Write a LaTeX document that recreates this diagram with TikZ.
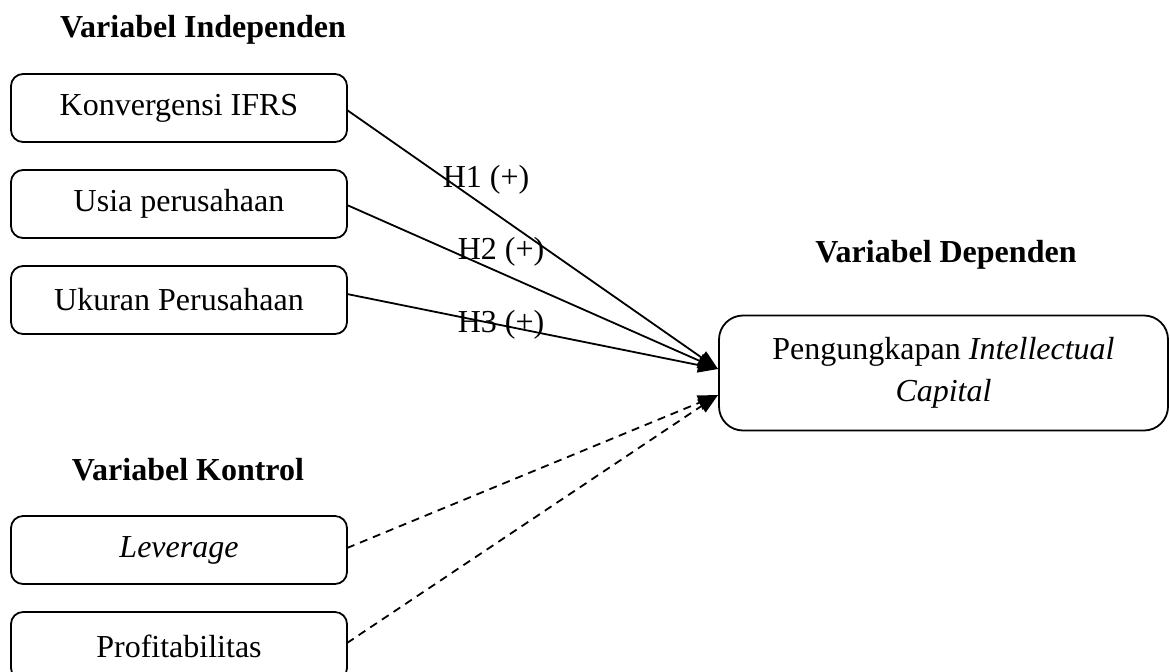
\documentclass[tikz,border=0pt]{standalone}
\usepackage{fontspec}
\setmainfont{Liberation Serif}
\usetikzlibrary{arrows.meta}
\begin{document}
\begin{tikzpicture}[x=0.5pt,y=-0.5pt,
  every node/.style={font=\fontsize{16}{21}\selectfont, inner sep=0pt, outer sep=0pt},
  varbox/.style={draw, line width=0.9pt, rounded corners=6pt, minimum width=168pt, minimum height=34pt, align=center},
  depbox/.style={draw, line width=0.9pt, rounded corners=12pt, minimum width=224.5pt, minimum height=57.5pt, align=center},
  heading/.style={font=\fontsize{16}{21}\selectfont\bfseries},
  hyp/.style={font=\fontsize{16}{21}\selectfont},
  link/.style={line width=0.9pt, -{Triangle[length=10pt,width=7.5pt]}},
  ctrl/.style={link, dash pattern=on 4pt off 3pt}]
\useasboundingbox (0,0) rectangle (1170,671);
\node[heading] (hind) at (203,30) {Variabel Independen};
\node[heading] (hdep) at (946,255) {Variabel Dependen};
\node[heading] (hkon) at (188,470) {Variabel Kontrol};
\node[varbox] (ifrs) at (179,108) {Konvergensi IFRS};
\node[varbox] (usia) at (179,204) {Usia perusahaan};
\node[varbox] (ukur) at (179,300) {Ukuran Perusahaan};
\node[varbox] (lev) at (179,550) {\itshape Leverage};
\node[varbox] (prof) at (179,646) {Profitabilitas};
\node[depbox] (dep) at (943.5,373) {Pengungkapan \textit{Intellectual}\\ \textit{Capital}};
\coordinate (e1) at (718,369);
\coordinate (e2) at (718,395);
\draw[link] (ifrs.east |- 0,110) -- (e1);
\draw[link] (usia.east |- 0,205) -- (e1);
\draw[link] (ukur.east |- 0,294) -- (e1);
\draw[ctrl] (lev.east |- 0,548) -- (e2);
\draw[ctrl] (prof.east |- 0,643) -- (e2);
\node[hyp] (h1) at (486,180) {H1 (+)};
\node[hyp] (h2) at (501,252) {H2 (+)};
\node[hyp] (h3) at (501,325) {H3 (+)};
\end{tikzpicture}
\end{document}
